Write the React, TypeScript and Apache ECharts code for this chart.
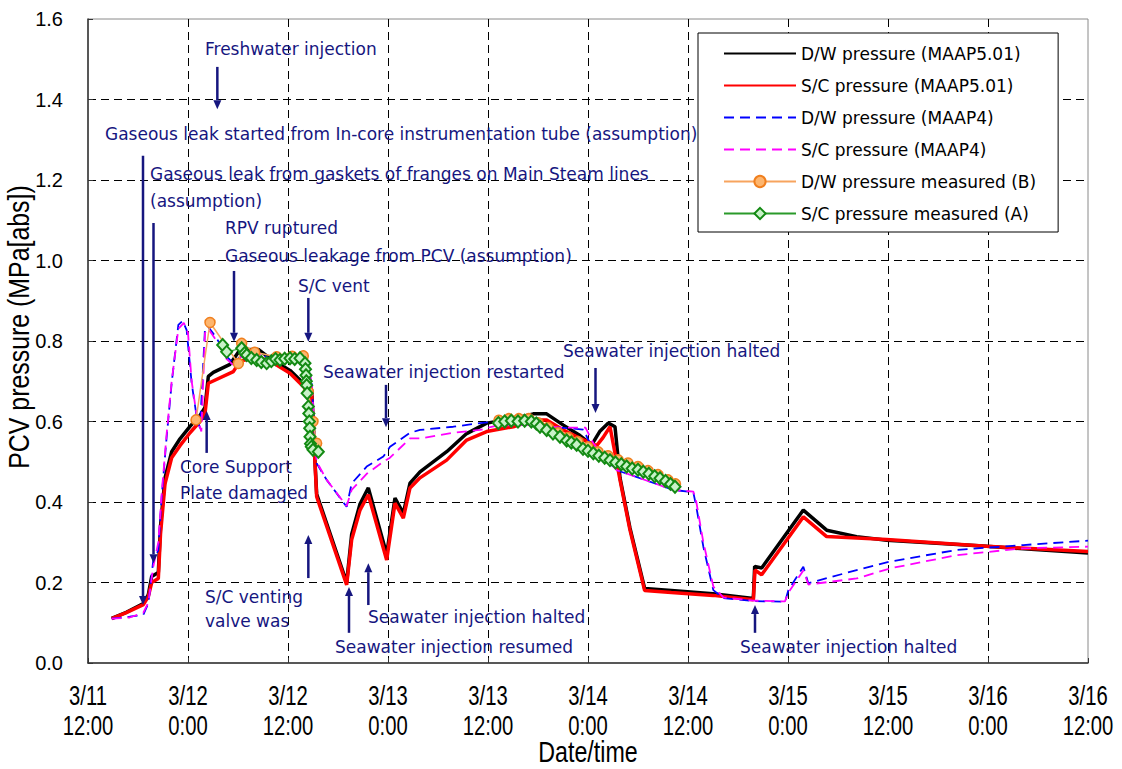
import React, { useEffect, useRef } from "react";
import * as echarts from "echarts";

// x values are hours elapsed since 3/11 12:00
const xTickValues = [0, 12, 24, 36, 48, 60, 72, 84, 96, 108, 120];
const xTickLabels = [
  "3/11\n12:00", "3/12\n0:00", "3/12\n12:00", "3/13\n0:00", "3/13\n12:00", "3/14\n0:00",
  "3/14\n12:00", "3/15\n0:00", "3/15\n12:00", "3/16\n0:00", "3/16\n12:00",
];

const seriesNames = [
  "D/W pressure (MAAP5.01)",
  "S/C pressure (MAAP5.01)",
  "D/W pressure (MAAP4)",
  "S/C pressure (MAAP4)",
  "D/W pressure measured (B)",
  "S/C pressure measured (A)",
];

const dwMaap5: [number, number][] = [
  [2.84, 0.111], [4.6, 0.126], [6.64, 0.148], [7.24, 0.17], [7.64, 0.215], [8.44, 0.225],
  [8.7, 0.34], [9.24, 0.46], [10.04, 0.525], [11.04, 0.557], [12.24, 0.588], [13.44, 0.615],
  [14.04, 0.635], [14.44, 0.712], [15.04, 0.722], [17.04, 0.742], [18.24, 0.778], [20.44, 0.779],
  [21.84, 0.757], [24.24, 0.727], [25.84, 0.695], [26.84, 0.678], [27.24, 0.5], [27.44, 0.42],
  [31.04, 0.2], [31.64, 0.32], [32.64, 0.395], [33.64, 0.435], [35.84, 0.27], [36.84, 0.41],
  [37.84, 0.372], [38.64, 0.447], [39.84, 0.475], [43.04, 0.525], [45.44, 0.57], [47.84, 0.596],
  [51.04, 0.607], [53.44, 0.619], [55.04, 0.619], [57.04, 0.591], [59.04, 0.565], [60.44, 0.542],
  [61.4, 0.575], [62.44, 0.596], [63.24, 0.587], [63.84, 0.46], [65.04, 0.335], [66.8, 0.185],
  [70, 0.18], [75, 0.172], [79.84, 0.16], [80.0, 0.24], [80.84, 0.236], [85.84, 0.38],
  [88.64, 0.33], [92.24, 0.314], [95.84, 0.305], [107.84, 0.29], [120, 0.273],
];

const scMaap5: [number, number][] = [
  [2.84, 0.11], [4.6, 0.125], [6.64, 0.145], [7.24, 0.165], [7.64, 0.2], [8.44, 0.21],
  [8.7, 0.32], [9.24, 0.445], [10.04, 0.51], [11.04, 0.54], [12.24, 0.572], [13.44, 0.6],
  [14.04, 0.62], [14.44, 0.695], [17.44, 0.724], [18.24, 0.75], [20.44, 0.76], [21.84, 0.75],
  [24.24, 0.72], [25.84, 0.687], [26.84, 0.668], [27.24, 0.496], [27.44, 0.413], [31.04, 0.194],
  [31.64, 0.306], [32.64, 0.38], [33.64, 0.418], [35.84, 0.256], [36.84, 0.397], [37.84, 0.36],
  [38.64, 0.435], [39.84, 0.46], [43.04, 0.504], [45.44, 0.554], [47.84, 0.575], [51.04, 0.587],
  [53.44, 0.604], [55.04, 0.604], [57.04, 0.579], [59.04, 0.558], [61.04, 0.54], [61.8, 0.56],
  [62.64, 0.587], [63.84, 0.455], [65.04, 0.33], [66.8, 0.18], [70, 0.175], [75, 0.168],
  [79.84, 0.157], [80.04, 0.231], [80.84, 0.219], [85.84, 0.363], [88.64, 0.314], [95.84, 0.307],
  [107.84, 0.29], [120, 0.277],
];

const dwMaap4: [number, number][] = [
  [2.84, 0.11], [5, 0.115], [6.64, 0.12], [7.24, 0.148], [7.84, 0.256], [8.44, 0.28],
  [8.84, 0.413], [9.44, 0.562], [10.04, 0.695], [10.84, 0.84], [11.36, 0.85], [11.84, 0.827],
  [12.44, 0.695], [13.04, 0.612], [13.44, 0.583], [14.04, 0.832], [14.44, 0.835], [15.44, 0.807],
  [16.64, 0.761], [17.44, 0.745], [18.44, 0.765], [20.44, 0.77], [22, 0.755], [24.24, 0.755],
  [26.24, 0.745], [26.84, 0.7], [27.24, 0.55], [27.44, 0.496], [28.64, 0.455], [31.04, 0.388],
  [31.64, 0.446], [33.44, 0.488], [35.44, 0.513], [36.24, 0.537], [38.64, 0.572], [39.84, 0.579],
  [43.84, 0.587], [47.04, 0.596], [49.04, 0.6], [53.44, 0.595], [56.6, 0.585], [59.44, 0.58],
  [60.24, 0.546], [63.44, 0.479], [66.24, 0.459], [70.24, 0.43], [72.64, 0.424], [73.0, 0.388],
  [73.84, 0.289], [75.04, 0.181], [76.24, 0.161], [79.84, 0.154], [83.64, 0.152], [84.04, 0.181],
  [85.84, 0.239], [86.44, 0.198], [92.24, 0.231], [96.24, 0.252], [104.24, 0.281], [112.24, 0.293],
  [120, 0.304],
];

const scMaap4: [number, number][] = [
  [2.84, 0.11], [5, 0.113], [6.64, 0.125], [7.24, 0.15], [7.84, 0.24], [8.44, 0.3],
  [8.84, 0.42], [9.44, 0.57], [10.04, 0.7], [10.84, 0.83], [11.5, 0.845], [12.0, 0.82],
  [12.44, 0.7], [13.04, 0.615], [13.6, 0.575], [14.04, 0.82], [14.44, 0.83], [15.44, 0.8],
  [16.64, 0.755], [17.44, 0.74], [18.44, 0.762], [20.44, 0.768], [22, 0.752], [24.24, 0.752],
  [26.24, 0.742], [26.84, 0.7], [27.24, 0.55], [27.44, 0.5], [28.64, 0.455], [31.04, 0.39],
  [31.64, 0.43], [33.44, 0.47], [35.44, 0.5], [36.24, 0.51], [38.64, 0.558], [39.84, 0.558],
  [43.84, 0.572], [47.04, 0.579], [49.04, 0.59], [53.44, 0.592], [56.6, 0.585], [59.7, 0.585],
  [60.64, 0.546], [63.44, 0.479], [66.24, 0.459], [70.24, 0.43], [72.64, 0.426], [73.0, 0.4],
  [73.84, 0.3], [75.04, 0.19], [76.24, 0.163], [79.84, 0.155], [83.64, 0.153], [84.04, 0.175],
  [85.84, 0.23], [86.44, 0.195], [92.24, 0.21], [96.24, 0.235], [104.24, 0.268], [112.24, 0.285],
  [120, 0.289],
];

const dwMeasured: [number, number | string][] = [
  [12.96, 0.604], [14.64, 0.846], [18.04, 0.744], [18.44, 0.794], [20.0, 0.772], [22.64, 0.761],
  [24.5, 0.762], [25.84, 0.763], [26.44, 0.674], [27.0, 0.6], [27.44, 0.546],
  [38, "-"],
  [49.3, 0.603], [50.5, 0.607], [51.7, 0.607], [52.9, 0.607], [54.0, 0.597], [55.2, 0.585],
  [56.4, 0.572], [57.6, 0.56], [58.8, 0.55], [60.0, 0.537], [61.2, 0.525], [62.4, 0.515],
  [63.6, 0.505], [64.8, 0.497], [66.0, 0.488], [67.2, 0.478], [68.4, 0.468], [69.6, 0.455],
  [70.5, 0.445],
];

const scMeasured: [number, number | string][] = [
  [16.16, 0.79], [16.64, 0.773], [18.44, 0.782], [18.8, 0.77], [19.04, 0.765], [19.6, 0.758],
  [20.24, 0.753], [20.8, 0.748], [21.44, 0.745], [22.0, 0.75], [22.5, 0.755], [23.04, 0.753],
  [23.6, 0.756], [24.24, 0.757], [24.8, 0.755], [25.44, 0.757], [26.04, 0.745], [26.1, 0.73],
  [26.16, 0.715], [26.2, 0.7], [26.24, 0.69], [26.3, 0.67], [26.44, 0.637], [26.5, 0.62],
  [26.56, 0.6], [26.6, 0.583], [26.64, 0.562], [26.7, 0.545], [26.8, 0.537], [27.0, 0.53],
  [27.64, 0.525],
  [38, "-"],
  [49.24, 0.596], [50.0, 0.6], [50.8, 0.602], [51.6, 0.6], [52.4, 0.602], [53.2, 0.6],
  [53.8, 0.595], [54.24, 0.587], [55.04, 0.579], [55.8, 0.57], [56.64, 0.562], [57.44, 0.553],
  [58.0, 0.548], [58.64, 0.542], [59.4, 0.532], [60.0, 0.527], [60.64, 0.521], [61.3, 0.515],
  [62.0, 0.51], [62.64, 0.504], [63.3, 0.498], [64.0, 0.494], [64.64, 0.488], [65.3, 0.483],
  [66.0, 0.48], [66.64, 0.475], [67.3, 0.47], [68.0, 0.464], [68.64, 0.459], [69.3, 0.452],
  [69.9, 0.445], [70.44, 0.438],
];

// annotation texts: left edge at hour h, vertical middle at pressure v
const annotationTexts: { text: string; h: number; v: number }[] = [
  { text: "Freshwater injection", h: 14.04, v: 1.525 },
  { text: "Gaseous leak started from In-core instrumentation tube (assumption)", h: 2.04, v: 1.314 },
  { text: "Gaseous leak from gaskets of franges on Main Steam lines", h: 7.44, v: 1.215 },
  { text: "(assumption)", h: 7.44, v: 1.148 },
  { text: "RPV ruptured", h: 16.44, v: 1.081 },
  { text: "Gaseous leakage from PCV (assumption)", h: 16.44, v: 1.011 },
  { text: "S/C vent", h: 25.2, v: 0.937 },
  { text: "Seawater injection restarted", h: 28.2, v: 0.723 },
  { text: "Seawater injection halted", h: 57.0, v: 0.775 },
  { text: "Core Support", h: 11.04, v: 0.487 },
  { text: "Plate damaged", h: 11.04, v: 0.422 },
  { text: "S/C venting", h: 14.04, v: 0.164 },
  { text: "valve was", h: 14.04, v: 0.104 },
  { text: "Seawater injection halted", h: 33.6, v: 0.114 },
  { text: "Seawater injection resumed", h: 29.64, v: 0.04 },
  { text: "Seawater injection halted", h: 78.24, v: 0.04 },
];

// arrows: at hour h, from pressure 'from' to arrowhead at pressure 'to'
const annotationArrows: { h: number; from: number; to: number }[] = [
  { h: 15.52, from: 1.481, to: 1.376 },
  { h: 6.6, from: 1.26, to: 0.144 },
  { h: 7.86, from: 1.093, to: 0.248 },
  { h: 17.52, from: 0.974, to: 0.798 },
  { h: 26.44, from: 0.907, to: 0.798 },
  { h: 35.76, from: 0.691, to: 0.586 },
  { h: 60.9, from: 0.733, to: 0.621 },
  { h: 14.24, from: 0.522, to: 0.626 },
  { h: 26.44, from: 0.211, to: 0.318 },
  { h: 31.32, from: 0.075, to: 0.189 },
  { h: 33.64, from: 0.144, to: 0.248 },
  { h: 80.04, from: 0.075, to: 0.144 },
];

const NAVY = "#16167f";
const ARIAL = '"Liberation Sans", Arial, sans-serif';
const SANS = '"DejaVu Sans", sans-serif';

export default function App() {
  const ref = useRef<HTMLDivElement>(null);
  useEffect(() => {
    const chart = echarts.init(ref.current!, null, { renderer: "svg" });
    const option: any = {
      animation: false,
      backgroundColor: "#fff",
      grid: {
        left: 88, right: 34, top: 19, bottom: 106,
        show: true, borderColor: "#8a8a8a", borderWidth: 1, backgroundColor: "transparent",
      },
      xAxis: {
        type: "value", min: 0, max: 120, interval: 12,
        axisLine: { show: true, lineStyle: { color: "#333", width: 1.5 } },
        axisTick: { show: true, inside: true, length: 5, lineStyle: { color: "#333" } },
        axisLabel: { show: false },
        splitLine: { show: true, showMinLine: false, showMaxLine: false, lineStyle: { color: "#000", type: [8, 5], width: 1 } },
      },
      yAxis: {
        type: "value", min: 0, max: 1.6, interval: 0.2,
        axisLine: { show: true, lineStyle: { color: "#333", width: 1.5 } },
        axisTick: { show: true, inside: true, length: 5, lineStyle: { color: "#333" } },
        axisLabel: {
          formatter: (v: number) => v.toFixed(1),
          fontFamily: ARIAL, fontSize: 20, color: "#000", margin: 25,
        },
        splitLine: { show: true, showMinLine: false, showMaxLine: false, lineStyle: { color: "#000", type: [8, 5], width: 1 } },
      },
      legend: {
        orient: "vertical", left: 698, top: 33,
        padding: [12, 22, 10, 25],
        itemWidth: 72, itemHeight: 14, itemGap: 15,
        borderColor: "#000", borderWidth: 1, backgroundColor: "#fff",
        textStyle: { fontSize: 17, fontFamily: SANS, color: "#000", lineHeight: 14 },
        data: seriesNames.map((name, i) => (i < 4 ? { name, itemStyle: { opacity: 0 } } : { name })),
      },
      series: [
        { name: seriesNames[0], type: "line", data: dwMaap5, symbol: "none", lineStyle: { color: "#000", width: 3.5 }, itemStyle: { color: "#000" } },
        { name: seriesNames[1], type: "line", data: scMaap5, symbol: "none", lineStyle: { color: "#ff0000", width: 3.5 }, itemStyle: { color: "#ff0000" } },
        { name: seriesNames[2], type: "line", data: dwMaap4, symbol: "none", lineStyle: { color: "#0000ff", width: 1.8, type: [10, 6] }, itemStyle: { color: "#0000ff" } },
        { name: seriesNames[3], type: "line", data: scMaap4, symbol: "none", lineStyle: { color: "#ff00ff", width: 1.8, type: [10, 6] }, itemStyle: { color: "#ff00ff" } },
        {
          name: seriesNames[4], type: "line", data: dwMeasured, connectNulls: false, showAllSymbol: true,
          symbol: "circle", symbolSize: 10,
          lineStyle: { color: "#f7a45e", width: 1.5 },
          itemStyle: { color: "#fdb56e", borderColor: "#f07f1e", borderWidth: 1.5 },
        },
        {
          name: seriesNames[5], type: "line", data: scMeasured, connectNulls: false, showAllSymbol: true,
          symbol: "diamond", symbolSize: [11, 12],
          lineStyle: { color: "#2a9a2a", width: 1.2 },
          itemStyle: { color: "#c8f2c8", borderColor: "#138a13", borderWidth: 2 },
        },
      ],
    };
    chart.setOption(option);

    const px = (h: number, v: number) => chart.convertToPixel({ gridIndex: 0 }, [h, v]) as number[];
    const graphics: any[] = [];
    // x-axis tick labels (condensed, as in the source chart)
    const [, y0] = px(0, 0);
    xTickValues.forEach((t, i) => {
      const [x] = px(t, 0);
      graphics.push({
        type: "text", x, y: y0 + 17, scaleX: 0.75, z: 100,
        style: { text: xTickLabels[i], fill: "#000", fontSize: 27, lineHeight: 30, fontFamily: ARIAL, align: "center", verticalAlign: "top" },
      });
    });
    annotationTexts.forEach((t) => {
      const [x, y] = px(t.h, t.v);
      graphics.push({
        type: "text", x, y, z: 100,
        style: { text: t.text, fill: NAVY, fontSize: 17, fontFamily: SANS, align: "left", verticalAlign: "middle" },
      });
    });
    annotationArrows.forEach((a) => {
      const [x, y1] = px(a.h, a.from);
      const [, y2] = px(a.h, a.to);
      const dir = y2 > y1 ? 1 : -1;
      const headLen = 9;
      const base = y2 - dir * headLen;
      graphics.push({
        type: "line", z: 100,
        shape: { x1: x, y1, x2: x, y2: base },
        style: { stroke: NAVY, lineWidth: 2.5 },
      });
      graphics.push({
        type: "polygon", z: 100,
        shape: { points: [[x - 4, base], [x + 4, base], [x, y2]] },
        style: { fill: NAVY },
      });
    });
    const [cx] = px(60, 0);
    graphics.push({
      type: "text", x: cx, y: 752, scaleX: 0.8, z: 100,
      style: { text: "Date/time", fill: "#000", fontSize: 29, fontFamily: ARIAL, align: "center", verticalAlign: "middle" },
    });
    graphics.push({
      type: "text", x: 19, y: 327, rotation: Math.PI / 2, scaleX: 0.83, z: 100,
      style: { text: "PCV pressure (MPa[abs])", fill: "#000", fontSize: 30, fontFamily: ARIAL, align: "center", verticalAlign: "middle" },
    });
    chart.setOption({ graphic: graphics });
    return () => chart.dispose();
  }, []);
  return <div ref={ref} style={{ position: "fixed", left: 0, top: 0, width: 1122, height: 769 }} />;
}
